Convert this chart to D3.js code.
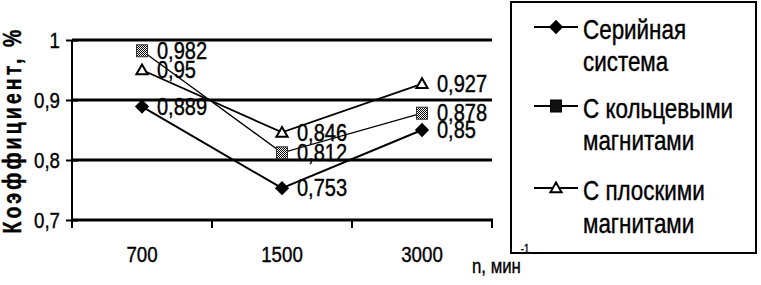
<!DOCTYPE html>
<html><head><meta charset="utf-8">
<script src="https://cdn.jsdelivr.net/npm/d3@7"></script>
<style>
body{margin:0;background:#fff;}
text{font-family:"Liberation Sans",Arial,sans-serif;fill:#000;stroke:#000;stroke-width:0.4px;}
</style></head>
<body><svg id="c" width="761" height="285"></svg>
<script>
const categories = ["700", "1500", "3000"];
const seriesNames = ["Серийная система", "С кольцевыми магнитами", "С плоскими магнитами"];
const serial = [0.889, 0.753, 0.85];
const ring = [0.982, 0.812, 0.878];
const flat = [0.95, 0.846, 0.927];
const yTicks = [0.7, 0.8, 0.9, 1];
const yTickLabels = ["0,7", "0,8", "0,9", "1"];
const legendLines = [["Серийная", "система"], ["С кольцевыми", "магнитами"], ["С плоскими", "магнитами"]];

const svg = d3.select("#c");
const defs = svg.append("defs");
const pat = defs.append("pattern").attr("id","dith").attr("width",2).attr("height",2).attr("patternUnits","userSpaceOnUse");
pat.append("rect").attr("width",2).attr("height",2).attr("fill","#fff");
pat.append("rect").attr("x",0).attr("y",0).attr("width",1).attr("height",1).attr("fill","#000");
pat.append("rect").attr("x",1).attr("y",1).attr("width",1).attr("height",1).attr("fill","#000");

const L = 72, R = 492, T = 40, B = 220;
const x = d3.scaleBand().domain(categories).range([L, R]);
const y = d3.scaleLinear().domain([0.7, 1]).range([B, T]);

function ntext(g, tx, ty, s, size, str, anchor) {
  return g.append("text").attr("transform", `translate(${tx},${ty}) scale(${s},1)`)
    .attr("font-size", size).attr("text-anchor", anchor || "start").text(str);
}

// gridlines
svg.append("g").selectAll("line").data(yTicks.filter(v => v > 0.7)).join("line")
  .attr("x1", L).attr("x2", R).attr("y1", d => y(d)).attr("y2", d => y(d))
  .attr("stroke", "#000").attr("stroke-width", 3);

// x axis
const xAxis = d3.axisBottom(x).tickSize(0).tickFormat(d => d);
const gx = svg.append("g").attr("transform", `translate(0,${B})`).call(xAxis);
gx.select(".domain").remove();
gx.attr("font-size", null).attr("font-family", null);
gx.selectAll("text").attr("dy", null).attr("y", null)
  .attr("transform", "translate(0,42) scale(0.85,1)")
  .attr("font-size", 22);
svg.append("line").attr("x1", L).attr("x2", R + 1).attr("y1", B).attr("y2", B).attr("stroke", "#000").attr("stroke-width", 3);
const bounds = [L].concat(categories.map(c => x(c) + x.bandwidth()));
svg.append("g").selectAll("line").data(bounds).join("line")
  .attr("x1", d => d).attr("x2", d => d).attr("y1", B).attr("y2", B + 8)
  .attr("stroke", "#000").attr("stroke-width", 2);

// y axis
const yAxis = d3.axisLeft(y).tickValues(yTicks).tickFormat((d, i) => yTickLabels[i]).tickSize(6);
const gy = svg.append("g").attr("transform", `translate(${L},0)`).call(yAxis);
gy.select(".domain").remove();
gy.attr("font-size", null).attr("font-family", null);
gy.selectAll(".tick line").attr("x2", 6).attr("x1", -6).attr("stroke-width", 2);
gy.selectAll("text").attr("x", null).attr("dy", "0.36em")
  .attr("transform", "translate(-12,0) scale(0.85,1)")
  .attr("font-size", 22);
svg.append("line").attr("x1", L).attr("x2", L).attr("y1", T).attr("y2", B + 8).attr("stroke", "#000").attr("stroke-width", 2);

// axis titles
svg.append("text").attr("transform", "translate(21,130) rotate(-90) scale(0.78,1)").attr("text-anchor", "middle")
  .attr("font-size", 25).attr("letter-spacing", 4).attr("font-weight", "bold").text("Коэффициент, %");
const xt = svg.append("text").attr("transform", "translate(472,273) scale(0.8,1)").attr("font-size", 21);
xt.append("tspan").text("n, мин");
xt.append("tspan").attr("dy", -20).attr("font-size", 12).text("-1");

// series
const series = [
  {name: seriesNames[0], values: serial, marker: "diamond", sw: 2},
  {name: seriesNames[1], values: ring, marker: "square", sw: 1.3},
  {name: seriesNames[2], values: flat, marker: "triangle", sw: 1.8}
];
const line = d3.line().x((d, i) => x(categories[i]) + x.bandwidth() / 2).y(d => y(d));
function drawMarker(g, type, cx, cy, legend) {
  if (type === "diamond") {
    g.append("path").attr("d", d3.symbol(d3.symbolDiamond2, 130)()).attr("transform", `translate(${cx},${cy})`).attr("fill", "#000");
  } else if (type === "square") {
    g.append("rect").attr("x", cx - 5.5).attr("y", cy - 6).attr("width", 11).attr("height", 12)
      .attr("fill", legend ? "#111" : "url(#dith)").attr("stroke", legend ? "#000" : "#333").attr("stroke-width", 1);
  } else {
    g.append("path").attr("d", d3.symbol(d3.symbolTriangle2, 90)()).attr("transform", `translate(${cx},${cy + 1})`)
      .attr("fill", "#fff").attr("stroke", "#000").attr("stroke-width", 2);
  }
}
series.forEach(s => {
  svg.append("path").datum(s.values).attr("d", line).attr("fill", "none").attr("stroke", "#000").attr("stroke-width", s.sw);
});
series.forEach(s => {
  const g = svg.append("g");
  s.values.forEach((v, i) => {
    const cx = x(categories[i]) + x.bandwidth() / 2, cy = y(v);
    drawMarker(g, s.marker, cx, cy, false);
    ntext(g, cx + 15, cy, 0.87, 23, String(v).replace(".", ",")).attr("dy", "0.36em");
  });
});

// legend
svg.append("rect").attr("x", 511).attr("y", 2).attr("width", 245).attr("height", 251)
  .attr("fill", "none").attr("stroke", "#000").attr("stroke-width", 2);
const rows = [27, 106, 188];
const base1 = [39, 118, 200];
const base2 = [71, 150, 233];
series.forEach((s, i) => {
  const g = svg.append("g");
  g.append("line").attr("x1", 534).attr("x2", 578).attr("y1", rows[i]).attr("y2", rows[i]).attr("stroke", "#000").attr("stroke-width", 2);
  drawMarker(g, s.marker, 556, rows[i], true);
  ntext(g, 583, base1[i], 0.83, 27, legendLines[i][0]);
  ntext(g, 583, base2[i], 0.83, 27, legendLines[i][1]);
});
</script></body></html>
